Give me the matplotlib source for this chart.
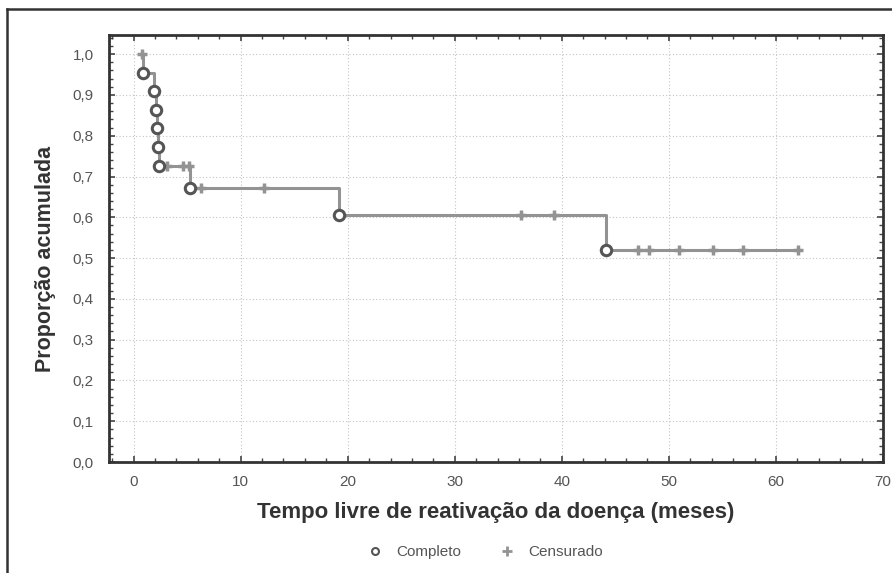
import matplotlib
matplotlib.use('Agg')
import matplotlib.pyplot as plt
import numpy as np
from matplotlib.ticker import MultipleLocator, FuncFormatter
from matplotlib.lines import Line2D

plt.rcParams['font.family'] = ['Liberation Sans', 'DejaVu Sans']

# tempo (meses), proporcao acumulada, 1 = completo / 0 = censurado
tempo = [0.75, 0.85, 1.95, 2.05, 2.15, 2.25, 2.35, 3.1, 4.6, 5.2, 5.3, 6.3, 12.2,
         19.2, 36.2, 39.3, 44.1, 47.1, 48.1, 50.9, 54.1, 56.9, 62.1]
prop = [1.0, 0.955, 0.909, 0.864, 0.818, 0.773, 0.727, 0.727, 0.727, 0.727,
        0.673, 0.673, 0.673, 0.606, 0.606, 0.606, 0.519, 0.519, 0.519, 0.519,
        0.519, 0.519, 0.519]
completo = [0, 1, 1, 1, 1, 1, 1, 0, 0, 0, 1, 0, 0, 1, 0, 0, 1, 0, 0, 0, 0, 0, 0]

tempo = np.array(tempo)
prop = np.array(prop)
completo = np.array(completo, dtype=bool)

fig = plt.figure(figsize=(8.92, 5.73), dpi=100)
ax = fig.add_axes([109/892, 1-462/573, (883-109)/892, (462-35)/573])

ax.step(tempo, prop, where='post', color='#939393', lw=2.2, zorder=3)
ax.plot(tempo[~completo], prop[~completo], ls='none', marker='+', ms=7, mew=2.5,
        color='#939393', zorder=4)
ax.plot(tempo[completo], prop[completo], ls='none', marker='o', ms=7.5, mew=2.2,
        mfc='white', mec='#555555', zorder=5)

ax.set_xlim(-2.3, 70)
ax.set_ylim(0, 1.047)
ax.xaxis.set_major_locator(MultipleLocator(10))
ax.xaxis.set_minor_locator(MultipleLocator(2))
ax.yaxis.set_major_locator(MultipleLocator(0.1))
ax.yaxis.set_minor_locator(MultipleLocator(0.02))
ax.yaxis.set_major_formatter(FuncFormatter(lambda v, p: ('%.1f' % v).replace('.', ',')))
ax.grid(True, which='major', ls=(0, (1, 2)), color='#c4c4c4', lw=0.8)
ax.tick_params(which='both', direction='in', top=True, right=True, colors='#444444',
               labelcolor='#555555', labelsize=11)
ax.tick_params(which='major', length=4, width=1.2, pad=9)
ax.tick_params(which='minor', length=3, width=1)
ax.tick_params(axis='y', which='major', pad=11)
for s in ax.spines.values():
    s.set_linewidth(2)
    s.set_color('#333333')

ax.set_xlabel('Tempo livre de reativação da doença (meses)', fontsize=16,
              fontweight='bold', color='#333333', labelpad=10)
ax.set_ylabel('Proporção acumulada', fontsize=15.5, fontweight='bold',
              color='#333333')
ax.yaxis.set_label_coords(-0.068, 0.475)

handles = [Line2D([], [], ls='none', marker='o', ms=5, mew=1.5, mfc='white',
                  mec='#555555', label='Completo'),
           Line2D([], [], ls='none', marker='+', ms=7, mew=2, color='#939393',
                  label='Censurado')]
fig.legend(handles=handles, loc='center', bbox_to_anchor=(481/892, 1-552/573),
           ncol=2, frameon=False, fontsize=11, handletextpad=0.4,
           columnspacing=2.0, labelcolor='#555555')

# moldura da figura (esquerda e topo)
fig.add_artist(Line2D([7/892, 7/892], [0, 1-9/573], transform=fig.transFigure,
                      color='#333333', lw=1.8))
fig.add_artist(Line2D([7/892, 1], [1-9/573, 1-9/573], transform=fig.transFigure,
                      color='#333333', lw=1.8))

fig.savefig('out.png', dpi=100)
